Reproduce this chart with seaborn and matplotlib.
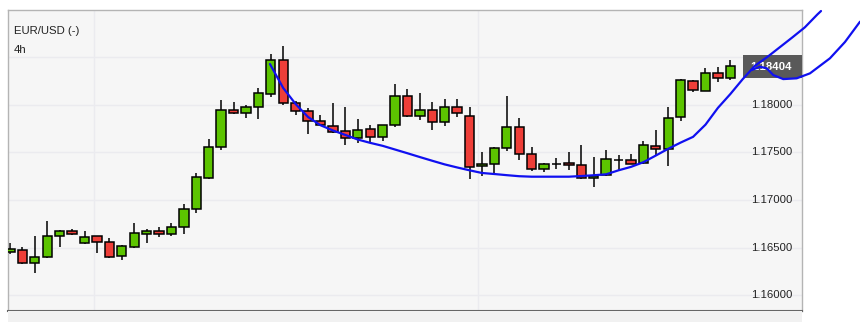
import numpy as np
import matplotlib
matplotlib.use("Agg")
import matplotlib.pyplot as plt
import seaborn as sns
from matplotlib.patches import Rectangle
import matplotlib.transforms as mtransforms

# ---------------- data ----------------
title = "EUR/USD (-)"
interval = "4h"

opens = [1.16456, 1.16471, 1.16334, 1.16397, 1.16617, 1.16673, 1.16550, 1.16617, 1.16554, 1.16408,
         1.16508, 1.16647, 1.16673, 1.16645, 1.16712, 1.16901, 1.17234, 1.17554, 1.17939, 1.17908,
         1.17971, 1.18107, 1.18464, 1.18016, 1.17929, 1.17832, 1.17771, 1.17719, 1.17645, 1.17740,
         1.17659, 1.17782, 1.18086, 1.17876, 1.17939, 1.17813, 1.17971, 1.17876, 1.17352, 1.17373,
         1.17541, 1.17761, 1.17478, 1.17327, 1.17381, 1.17386, 1.17362, 1.17226, 1.17257, 1.17418,
         1.17415, 1.17383, 1.17568, 1.17530, 1.17866, 1.18250, 1.18145, 1.18327, 1.18275]
closes = [1.16481, 1.16334, 1.16400, 1.16621, 1.16673, 1.16645, 1.16607, 1.16554, 1.16403, 1.16513,
          1.16649, 1.16673, 1.16645, 1.16715, 1.16901, 1.17236, 1.17554, 1.17939, 1.17908, 1.17971,
          1.18117, 1.18464, 1.18013, 1.17929, 1.17824, 1.17782, 1.17712, 1.17649, 1.17729, 1.17656,
          1.17782, 1.18086, 1.17876, 1.17939, 1.17813, 1.17971, 1.17908, 1.17341, 1.17373, 1.17541,
          1.17761, 1.17478, 1.17320, 1.17379, 1.17381, 1.17365, 1.17229, 1.17250, 1.17425, 1.17418,
          1.17379, 1.17572, 1.17530, 1.17862, 1.18254, 1.18149, 1.18327, 1.18278, 1.18404]
highs = [1.16547, 1.16505, 1.16621, 1.16778, 1.16680, 1.16694, 1.16673, 1.16620, 1.16596, 1.16526,
         1.16757, 1.16692, 1.16712, 1.16757, 1.16956, 1.17281, 1.17638, 1.18050, 1.18026, 1.17992,
         1.18173, 1.18533, 1.18614, 1.18037, 1.17966, 1.17890, 1.18013, 1.17977, 1.17848, 1.17782,
         1.17787, 1.18215, 1.18159, 1.18121, 1.18026, 1.18058, 1.18058, 1.17974, 1.17502, 1.17554,
         1.18089, 1.17855, 1.17554, 1.17386, 1.17439, 1.17499, 1.17578, 1.17446, 1.17520, 1.17470,
         1.17478, 1.17620, 1.17733, 1.17971, 1.18267, 1.18254, 1.18383, 1.18393, 1.18467]
lows = [1.16427, 1.16330, 1.16236, 1.16390, 1.16508, 1.16634, 1.16540, 1.16445, 1.16393, 1.16372,
        1.16498, 1.16550, 1.16613, 1.16624, 1.16645, 1.16859, 1.17222, 1.17520, 1.17897, 1.17862,
        1.17851, 1.18082, 1.17998, 1.17893, 1.17687, 1.17777, 1.17706, 1.17572, 1.17596, 1.17599,
        1.17614, 1.17761, 1.17871, 1.17841, 1.17736, 1.17771, 1.17866, 1.17222, 1.17253, 1.17285,
        1.17515, 1.17421, 1.17299, 1.17289, 1.17323, 1.17310, 1.17218, 1.17131, 1.17250, 1.17313,
        1.17376, 1.17376, 1.17460, 1.17358, 1.17830, 1.18134, 1.18142, 1.18239, 1.18260]

ma_index = [20.93, 22, 23, 24, 25, 26, 27, 28, 29, 30, 31, 32, 33, 34, 35, 36, 37, 38, 39, 40,
            41, 42, 43, 44, 45, 46, 47, 48, 49, 50, 51, 52, 53, 54, 55, 56, 57, 58, 59, 60,
            61, 62, 63, 64, 65, 65.3]
ma_values = [1.18425, 1.18173, 1.18005, 1.17869, 1.17783, 1.17728, 1.17681, 1.17633, 1.17598, 1.17567,
             1.17528, 1.17489, 1.17449, 1.17410, 1.17372, 1.17340, 1.17310, 1.17282, 1.17271, 1.17259,
             1.17248, 1.17243, 1.17243, 1.17243, 1.17243, 1.17250, 1.17258, 1.17268, 1.17310, 1.17346,
             1.17395, 1.17465, 1.17536, 1.17601, 1.17661, 1.17789, 1.17965, 1.18110, 1.18267, 1.18409,
             1.18501, 1.18603, 1.18705, 1.18810, 1.18944, 1.18981]

proj_index = [59.72, 60.39, 60.93, 61.46, 62.26, 63.34, 64.41, 66.02, 67.23, 68.44]
proj_values = [1.18362, 1.18397, 1.18380, 1.18309, 1.18267, 1.18275, 1.18327, 1.18485, 1.18656, 1.18869]

price_ticks = [1.160, 1.165, 1.170, 1.175, 1.180, 1.185]
tick_labels = ["1.16000", "1.16500", "1.17000", "1.17500", "1.18000", ""]
day_breaks = [6.78, 37.7]
last_price = 1.18404
last_label = "1.18404"

# ---------------- style ----------------
sns.set_style("white")
plt.rcParams["font.family"] = ["Liberation Sans", "DejaVu Sans"]

W, H = 860, 322
fig = plt.figure(figsize=(W / 100, H / 100), dpi=100)
fig.patch.set_facecolor("white")
ax = fig.add_axes([8 / W, 11 / H, 794 / W, 301.5 / H])
ax.set_facecolor("#f6f6f6")

# strip under the chart
fig.patches.append(Rectangle((8 / W, 0), 794 / W, 11 / H, transform=fig.transFigure,
                             facecolor="#f1f1f1", edgecolor="none", zorder=0))

idx = np.arange(len(opens))
o = np.array(opens)
c = np.array(closes)

# wicks
ax.vlines(idx, lows, highs, color="black", linewidth=1.1, zorder=2)

# bodies
bottoms = np.minimum(o, c)
heights = np.abs(c - o)
colors = ["#5cc400" if cc > oo else ("#ee3e38" if cc < oo else "black") for oo, cc in zip(o, c)]
ax.bar(idx, heights, bottom=bottoms, width=0.75, color=colors, edgecolor="black",
       linewidth=1.1, zorder=3)

ax.set_xlim(-0.161, 63.77)
ax.set_ylim(1.15834, 1.18997)

# grid
ax.set_yticks(price_ticks)
ax.set_xticks(day_breaks)
ax.grid(True, color="#ebebef", linewidth=1.0, zorder=0)
ax.set_axisbelow(True)
ax.tick_params(left=False, bottom=False, labelleft=False, labelbottom=False)

# price labels inside the plot
ytrans = ax.get_yaxis_transform()
for p, lab in zip(price_ticks, tick_labels):
    if lab:
        ax.text(0.9874, p, lab, transform=ytrans, ha="right", va="center",
                fontsize=8.2, color="#222222", zorder=4)

# last price box
box_h = 0.00242
ax.add_patch(Rectangle((0.9257, last_price - box_h / 2 - 0.00005), 1 - 0.9257, box_h,
                       transform=ytrans, facecolor="#595959", edgecolor="none", zorder=5,
                       clip_on=False))
ax.text(0.9874, last_price - 0.00005, last_label, transform=ytrans, ha="right", va="center",
        fontsize=8.2, color="white", fontweight="bold", zorder=6)

# moving average and projection
sns.lineplot(x=ma_index, y=ma_values, ax=ax, color="#1010f0", linewidth=1.6, sort=False,
             zorder=7)
ax.lines[-1].set_clip_on(False)
sns.lineplot(x=proj_index, y=proj_values, ax=ax, color="#1010f0", linewidth=1.6, sort=False,
             zorder=7)
ax.lines[-1].set_clip_on(False)

# title
ax.text(6 / 794, (311 - 30.7) / 301.5, title, transform=ax.transAxes, ha="left", va="center",
        fontsize=8.2, color="#222222", zorder=6)
ax.text(6 / 794, (311 - 50) / 301.5, interval, transform=ax.transAxes, ha="left", va="center",
        fontsize=8.2, color="#222222", zorder=6)

# spines
for s in ["top", "left", "right"]:
    ax.spines[s].set_visible(True)
    ax.spines[s].set_color("#b4b4b4")
    ax.spines[s].set_linewidth(1.0)
ax.spines["bottom"].set_visible(True)
ax.spines["bottom"].set_color("#666666")
ax.spines["bottom"].set_linewidth(1.5)

ax.set_xlabel("")
ax.set_ylabel("")
fig.savefig("out.png", dpi=100)
